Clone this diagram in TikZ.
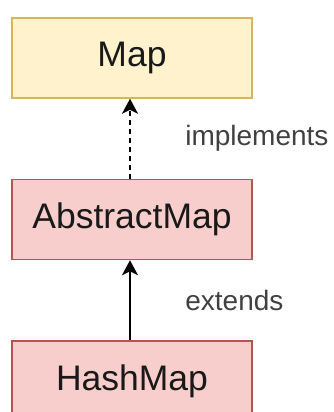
\documentclass[tikz,border=0pt]{standalone}
\usepackage{fontspec}
\setmainfont{Liberation Sans}
\usetikzlibrary{positioning}
\usetikzlibrary{arrows.meta}
\definecolor{mapfill}{HTML}{FFF2CC}
\definecolor{mapline}{HTML}{D6B656}
\definecolor{clsfill}{HTML}{F8CECC}
\definecolor{clsline}{HTML}{B85450}

\begin{document}
\begin{tikzpicture}[x=1pt,y=1pt,
    box/.style={draw,line width=1.5pt,minimum width=240pt,minimum height=80pt,
        inner sep=0pt,font=\fontsize{35.5}{42}\selectfont,text=black!90},
    relation/.style={line width=2pt,-{Stealth[length=15pt,width=16pt,inset=4pt]}},
    rellabel/.style={font=\fontsize{28}{34}\selectfont,text=black!75}]
            \useasboundingbox (0,0) rectangle (334,-412);
            \node[box,fill=mapfill,draw=mapline] (map) at (132,-58) {Map};
            \node[box,fill=clsfill,draw=clsline,below=80pt of map] (abstractmap) {AbstractMap};
            \node[box,fill=clsfill,draw=clsline,below=80pt of abstractmap] (hashmap) {HashMap};
            \draw[relation,dash pattern=on 5pt off 4pt] ([xshift=-2pt]abstractmap.north) -- ([xshift=-2pt]map.south)
                node[rellabel,midway,right=51pt]{implements};
            \draw[relation] ([xshift=-2pt]hashmap.north) -- ([xshift=-2pt]abstractmap.south)
                node[rellabel,midway,right=51pt]{extends};
        \end{tikzpicture}
\end{document}
